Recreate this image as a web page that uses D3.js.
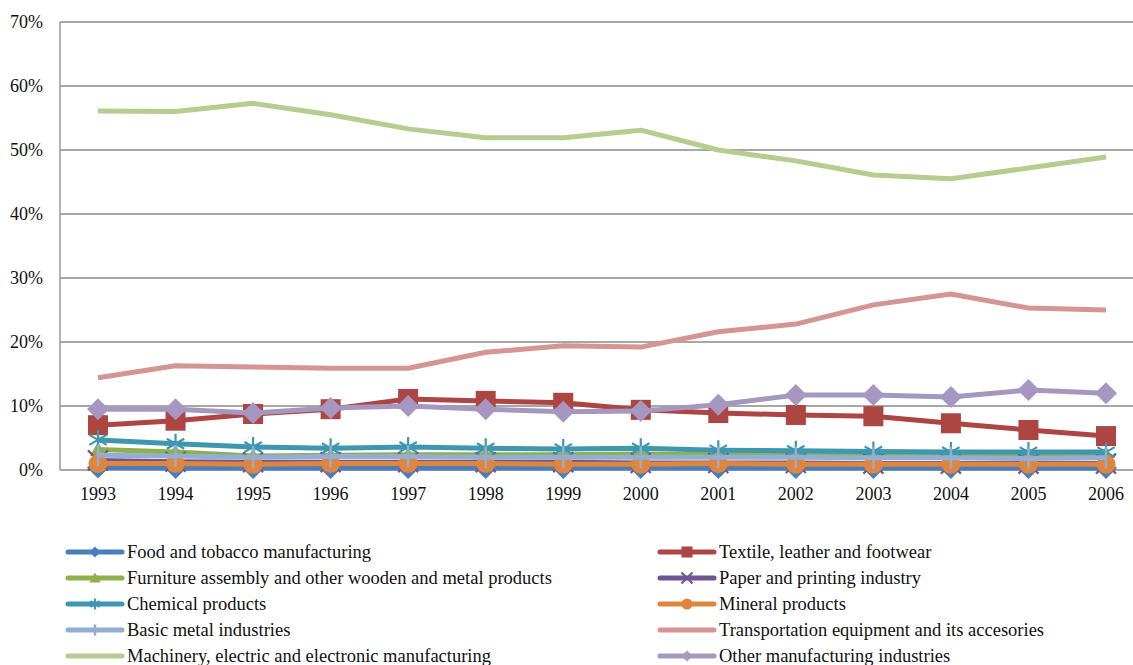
<!DOCTYPE html>
<html>
<head>
<meta charset="utf-8">
<script src="https://cdn.jsdelivr.net/npm/d3@7"></script>
<style>
body { margin: 0; background: #fff; }
</style>
</head>
<body>
<script>
const years = [1993,1994,1995,1996,1997,1998,1999,2000,2001,2002,2003,2004,2005,2006]
const yTicks = [0,0.1,0.2,0.3,0.4,0.5,0.6,0.7]

// shares, in %
const food = [0.4,0.3,0.3,0.3,0.3,0.3,0.3,0.3,0.3,0.3,0.3,0.3,0.3,0.3]
const textile = [7.0,7.7,8.75,9.5,11.1,10.8,10.5,9.4,8.9,8.6,8.4,7.3,6.25,5.3]
const furniture = [3.2,2.8,2.2,2.3,2.4,2.4,2.4,2.5,2.4,2.4,2.4,2.4,2.5,2.5]
const paper = [1.5,1.3,1.2,1.2,1.2,1.2,1.2,1.1,1.1,1.1,1.0,1.0,1.0,1.0]
const chemical = [4.7,4.1,3.6,3.4,3.6,3.4,3.3,3.4,3.1,3.0,2.9,2.8,2.8,2.8]
const mineral = [1.0,1.0,0.9,1.0,1.0,1.0,0.9,0.9,1.0,0.9,0.9,0.9,0.9,0.9]
const basicMetal = [2.3,2.2,2.0,2.1,2.1,2.0,2.0,2.0,2.0,2.0,1.9,1.9,1.8,1.9]
const transport = [14.4,16.3,16.1,15.9,15.9,18.4,19.4,19.2,21.6,22.8,25.8,27.5,25.3,25.0]
const machinery = [56.1,56.0,57.3,55.5,53.3,51.9,51.9,53.1,50.0,48.3,46.1,45.5,47.2,48.9]
const other = [9.5,9.5,8.9,9.7,10.0,9.5,9.1,9.2,10.2,11.7,11.7,11.4,12.5,12.0]

const seriesNames = [
  "Food and tobacco manufacturing",
  "Textile, leather and footwear",
  "Furniture assembly and other wooden and metal products",
  "Paper and printing industry",
  "Chemical products",
  "Mineral products",
  "Basic metal industries",
  "Transportation equipment and its accesories",
  "Machinery, electric and electronic manufacturing",
  "Other manufacturing industries"
]
const seriesValues = [food,textile,furniture,paper,chemical,mineral,basicMetal,transport,machinery,other]
const seriesColors = ["#4A7EBB","#AD4542","#8DB04B","#6F5592","#3D97AF","#E0853B","#93AED3","#D69492","#B5CD8E","#A697C0"]
const seriesMarkers = ["diamond","square","triangle","x","asterisk","circle","plus","none","none","diamond"]

const FONT = "Liberation Serif"

const width = 1133, height = 665
const svg = d3.select("body").append("svg")
  .attr("width", width).attr("height", height)

const x = d3.scalePoint().domain(years).range([98, 1106])
const y = d3.scaleLinear().domain([0, 0.7]).range([470, 22])

// grid
svg.append("g").selectAll("line").data(yTicks).join("line")
  .attr("x1", 60).attr("x2", width)
  .attr("y1", d => y(d)).attr("y2", d => y(d))
  .attr("stroke", "#8a8a8a").attr("stroke-width", 1.3)
svg.append("line").attr("x1", 60).attr("x2", 60).attr("y1", y(0.7)).attr("y2", y(0))
  .attr("stroke", "#8a8a8a").attr("stroke-width", 1.3)

svg.append("g").selectAll("text").data(yTicks).join("text")
  .attr("x", 43).attr("y", d => y(d) + 6)
  .attr("text-anchor", "end").attr("font-family", FONT).attr("font-size", 18).attr("fill", "#111")
  .text(d => d3.format(".0%")(d))

svg.append("g").selectAll("text").data(years).join("text")
  .attr("x", d => x(d)).attr("y", 500)
  .attr("text-anchor", "middle").attr("font-family", FONT).attr("font-size", 18).attr("fill", "#111")
  .text(d => d)

function marker(g, type, color, s) {
  if (type === "none") return
  if (type === "diamond") g.append("path").attr("d", `M0,${-s}L${s},0L0,${s}L${-s},0Z`).attr("fill", color)
  if (type === "square") g.append("rect").attr("x", -s).attr("y", -s).attr("width", 2*s).attr("height", 2*s).attr("fill", color)
  if (type === "triangle") g.append("path").attr("d", `M0,${-s}L${s},${s*0.8}L${-s},${s*0.8}Z`).attr("fill", color)
  if (type === "circle") g.append("circle").attr("r", s).attr("fill", color)
  if (type === "x") g.append("path").attr("d", `M${-s},${-s}L${s},${s}M${-s},${s}L${s},${-s}`).attr("stroke", color).attr("stroke-width", 2.2)
  if (type === "plus") g.append("path").attr("d", `M0,${-s}L0,${s}`).attr("stroke", color).attr("stroke-width", 2.5)
  if (type === "asterisk") g.append("path")
    .attr("d", `M0,${-s}L0,${s}M${-s*0.87},${-s*0.5}L${s*0.87},${s*0.5}M${-s*0.87},${s*0.5}L${s*0.87},${-s*0.5}`)
    .attr("stroke", color).attr("stroke-width", 2.2)
}

const markerSize = {diamond: 11, square: 10, triangle: 8, x: 10, asterisk: 10, circle: 9.5, plus: 11}

const line = d3.line().x((d, i) => x(years[i])).y(d => y(d / 100))

seriesValues.forEach((vals, k) => {
  const g = svg.append("g")
  g.append("path").attr("d", line(vals))
    .attr("fill", "none").attr("stroke", seriesColors[k])
    .attr("stroke-width", 5).attr("stroke-linejoin", "round")
  vals.forEach((v, i) => {
    const m = g.append("g").attr("transform", `translate(${x(years[i])},${y(v / 100)})`)
    marker(m, seriesMarkers[k], seriesColors[k], markerSize[seriesMarkers[k]])
  })
})

// legend
const legend = svg.append("g")
seriesNames.forEach((name, k) => {
  const col = k % 2, row = Math.floor(k / 2)
  const lx = col === 0 ? 68 : 660
  const ly = 552 + row * 26
  const g = legend.append("g").attr("transform", `translate(${lx},${ly})`)
  g.append("line").attr("x1", 0).attr("x2", 54).attr("y1", 0).attr("y2", 0)
    .attr("stroke", seriesColors[k]).attr("stroke-width", 5).attr("stroke-linecap", "round")
  const m = g.append("g").attr("transform", "translate(27,0)")
  marker(m, seriesMarkers[k], seriesColors[k], 5.5)
  g.append("text").attr("x", 59).attr("y", 6).attr("font-family", FONT).attr("font-size", 18.5).attr("fill", "#111").text(name)
})
</script>
</body>
</html>
